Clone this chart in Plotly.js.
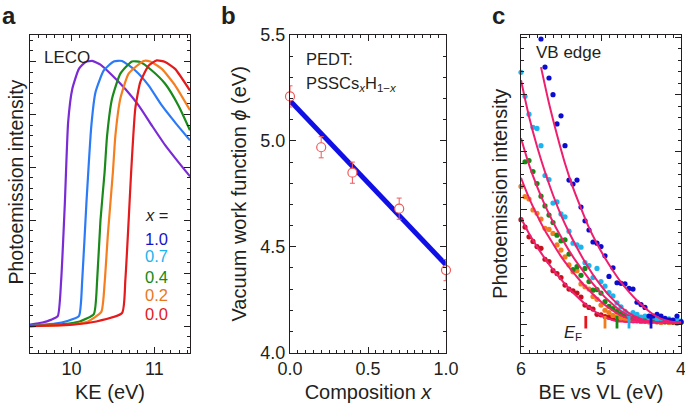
<!DOCTYPE html>
<html>
<head>
<meta charset="utf-8">
<script src="https://cdn.plot.ly/plotly-3.0.1.min.js"></script>
<style>html,body{margin:0;padding:0;background:#fff;}#chart{width:685px;height:409px;}</style>
</head>
<body>
<div id="chart"></div>
<script>
// ---------- Panel a: LECO spectra (KE in eV, intensity arb. units) ----------
const keP = [9.50, 9.65, 9.75, 9.835, 9.876, 9.92, 9.96, 10.01, 10.09, 10.17, 10.25, 10.35, 10.49, 10.65, 10.81, 10.97, 11.13, 11.29, 11.43];
const intP = [0.03, 0.07, 0.12, 0.19, 0.87, 2.31, 3.85, 4.48, 4.86, 4.99, 5.01, 4.94, 4.74, 4.48, 4.17, 3.79, 3.42, 3.10, 2.83];
const keB = [9.50, 9.80, 9.95, 10.09, 10.13, 10.18, 10.24, 10.29, 10.39, 10.51, 10.61, 10.77, 10.93, 11.09, 11.25, 11.43];
const intB = [0.01, 0.05, 0.10, 0.19, 0.87, 2.31, 3.79, 4.42, 4.83, 5.00, 5.01, 4.83, 4.55, 4.17, 3.85, 3.51];
const keG = [9.50, 9.90, 10.10, 10.27, 10.31, 10.35, 10.40, 10.43, 10.49, 10.59, 10.73, 10.83, 10.97, 11.13, 11.29, 11.43];
const intG = [0.00, 0.04, 0.09, 0.23, 0.87, 2.00, 2.91, 3.60, 4.30, 4.77, 5.00, 4.99, 4.83, 4.58, 4.17, 3.70];
const keO = [9.50, 10.00, 10.20, 10.36, 10.40, 10.44, 10.50, 10.53, 10.59, 10.69, 10.87, 10.95, 11.09, 11.25, 11.43];
const intO = [0.00, 0.03, 0.09, 0.27, 0.81, 1.75, 2.91, 3.60, 4.30, 4.77, 5.01, 5.00, 4.86, 4.55, 4.08];
const keR = [9.50, 10.00, 10.30, 10.61, 10.65, 10.69, 10.72, 10.77, 10.83, 10.93, 11.03, 11.13, 11.25, 11.43];
const intR = [0.00, 0.03, 0.09, 0.25, 0.87, 2.00, 2.91, 4.11, 4.61, 4.92, 5.02, 4.99, 4.86, 4.45];
const legendLabels = ['1.0', '0.7', '0.4', '0.2', '0.0'];

// ---------- Panel b: work function vs composition ----------
const compX = [0.0, 0.2, 0.4, 0.7, 1.0];
const phi = [5.21, 4.97, 4.85, 4.68, 4.39];
const phiErr = [0.05, 0.05, 0.05, 0.05, 0.05];
const lineX = [0.0, 1.0];
const linePhi = [5.19, 4.415];

// ---------- Panel c: VB edge (BE vs VL in eV, intensity arb. units) ----------
const beBlue = [5.75,5.70,5.65,5.60,5.55,5.50,5.45,5.40,5.35,5.30,5.25,5.20,5.15,5.10,5.05,5.00,4.95,4.90,4.85,4.80,4.75,4.70,4.65,4.60,4.55,4.50,4.45,4.40,4.35,4.30,4.25,4.20,4.15,4.10,4.05,4.00];
const intBlue = [4.97,4.48,4.29,4.00,3.49,3.63,3.11,2.51,2.44,2.51,2.04,1.80,1.64,1.43,1.41,1.35,1.19,0.83,0.98,0.72,0.71,0.70,0.62,0.61,0.38,0.34,0.29,0.14,0.14,0.17,0.14,0.10,0.07,0.07,0.14,0.04];
const beLight = [6.00,5.95,5.90,5.85,5.80,5.75,5.70,5.65,5.60,5.55,5.50,5.45,5.40,5.35,5.30,5.25,5.20,5.15,5.10,5.05,5.00,4.95,4.90,4.85,4.80,4.75,4.70,4.65,4.60,4.55,4.50,4.45,4.40,4.35,4.30,4.25,4.20,4.15,4.10,4.05,4.00];
const intLight = [4.39,3.97,3.66,3.43,3.41,3.11,2.59,2.52,2.11,2.13,1.92,1.87,1.62,1.41,1.38,1.34,1.07,1.02,0.81,0.97,0.74,0.66,0.55,0.49,0.37,0.30,0.22,0.15,0.20,0.17,0.12,0.14,0.10,0.12,0.08,0.10,0.07,0.09,0.06,0.08,0.05];
const beGreen = [5.95,5.90,5.85,5.80,5.75,5.70,5.65,5.60,5.55,5.50,5.45,5.40,5.35,5.30,5.25,5.20,5.15,5.10,5.05,5.00,4.95,4.90,4.85,4.80,4.75,4.70,4.65,4.60,4.55,4.50,4.45,4.40,4.35,4.30,4.25,4.20,4.15,4.10,4.05,4.00];
const intGreen = [2.83,2.85,2.66,2.45,2.23,2.06,1.90,1.77,1.55,1.45,1.47,1.22,0.95,1.00,0.85,0.97,0.74,0.59,0.60,0.54,0.39,0.31,0.27,0.22,0.18,0.15,0.13,0.10,0.12,0.08,0.07,0.06,0.07,0.05,0.06,0.04,0.05,0.04,0.05,0.03];
const beOrange = [6.00,5.95,5.90,5.85,5.80,5.75,5.70,5.65,5.60,5.55,5.50,5.45,5.40,5.35,5.30,5.25,5.20,5.15,5.10,5.05,5.00,4.95,4.90,4.85,4.80,4.75,4.70,4.65,4.60,4.55,4.50,4.45,4.40,4.35,4.30,4.25,4.20,4.15,4.10,4.05,4.00];
const intOrange = [2.40,2.22,2.18,1.99,1.93,1.83,1.67,1.65,1.58,1.38,1.29,1.17,1.03,0.91,0.93,0.70,0.65,0.61,0.48,0.43,0.33,0.24,0.20,0.15,0.13,0.10,0.09,0.07,0.08,0.06,0.05,0.06,0.04,0.05,0.04,0.03,0.04,0.03,0.04,0.03,0.03];
const beRed = [6.00,5.95,5.90,5.85,5.80,5.75,5.70,5.65,5.60,5.55,5.50,5.45,5.40,5.35,5.30,5.25,5.20,5.15,5.10,5.05,5.00,4.95,4.90,4.85,4.80,4.75,4.70,4.65,4.60,4.55,4.50,4.45,4.40,4.35,4.30,4.25,4.20,4.15,4.10,4.05,4.00];
const intRed = [1.82,1.69,1.52,1.44,1.35,1.32,1.13,1.09,0.93,0.88,0.81,0.68,0.61,0.58,0.54,0.47,0.33,0.29,0.26,0.17,0.16,0.13,0.12,0.10,0.09,0.08,0.07,0.08,0.06,0.06,0.05,0.05,0.04,0.05,0.04,0.03,0.04,0.03,0.03,0.02,0.03];

const fitBlueBE = [5.75,5.65,5.55,5.45,5.35,5.25,5.15,5.05,4.95,4.85,4.75,4.65,4.55,4.45,4.35,4.25,4.15,4.05,4.00];
const fitBlue = [4.48,3.85,3.30,2.80,2.38,2.02,1.68,1.40,1.15,0.93,0.73,0.56,0.41,0.28,0.17,0.09,0.05,0.03,0.03];
const fitBE = [6.00,5.90,5.80,5.70,5.60,5.50,5.40,5.30,5.20,5.10,5.00,4.90,4.80,4.70,4.60,4.50,4.40,4.20,4.00];
const fitLight = [4.25,3.62,3.10,2.65,2.25,1.90,1.60,1.33,1.08,0.86,0.67,0.50,0.36,0.24,0.15,0.09,0.05,0.03,0.03];
const fitGreen = [3.24,2.78,2.40,2.07,1.78,1.52,1.28,1.07,0.88,0.70,0.54,0.40,0.28,0.18,0.11,0.07,0.04,0.03,0.03];
const fitOrange = [2.55,2.20,1.90,1.63,1.40,1.18,0.99,0.82,0.66,0.52,0.39,0.28,0.19,0.12,0.07,0.05,0.04,0.03,0.03];
const fitRed = [1.85,1.58,1.35,1.14,0.95,0.78,0.62,0.48,0.35,0.24,0.15,0.09,0.05,0.04,0.03,0.03,0.03,0.03,0.03];

const efBE = [5.19, 4.95, 4.80, 4.65, 4.375];
const efMarkY = [-0.08, 0.14];

// ---------- styling ----------
const F = 'Liberation Sans, Arial, Helvetica, sans-serif';
const INK = '#231f20';
const cA = {p:'#7b2bd5', b:'#2b7bf8', g:'#1a8a1a', o:'#f57f1f', r:'#e41a1c'};
const cLeg = ['#1414c8', '#1cb4ee', '#138a13', '#e8781e', '#e41a1c'];
const cC = {blue:'#0c0cd0', light:'#1cb4ee', green:'#138a13', orange:'#f07d1e', red:'#c4121c'};
const fitCol = '#f01e6e';
const efCol = ['#e8141b', '#f07d1e', '#138a13', '#1cb4ee', '#1414c8'];
const W = 685, H = 409;
const px = v => v / W;
const py = v => 1 - v / H;
const yDom = [py(352.7), py(35)];

function ax(extra) {
  return Object.assign({
    showline: true, linecolor: INK, linewidth: 1, mirror: 'allticks',
    ticks: 'inside', ticklen: 6, tickwidth: 1, tickcolor: INK,
    zeroline: false, showgrid: false, fixedrange: true, ticklabeloverflow: 'allow',
    tickfont: {family: F, size: 18, color: INK}
  }, extra);
}
const minorT = (dt) => ({tickmode:'linear', tick0:0, dtick:dt, ticks:'inside', ticklen:3, tickcolor:INK, tickwidth:1});

const traces = [];
// panel a
[[keP,intP,cA.p],[keB,intB,cA.b],[keG,intG,cA.g],[keO,intO,cA.o],[keR,intR,cA.r]].forEach(([x,y,c]) => {
  traces.push({x, y, xaxis:'x', yaxis:'y', type:'scatter', mode:'lines',
    line:{color:c, width:2.2, shape:'spline', smoothing:0.5}, hoverinfo:'skip'});
});
// panel b
traces.push({x: lineX, y: linePhi, xaxis:'x2', yaxis:'y2', type:'scatter', mode:'lines',
  line:{color:'#1010e6', width:5}, hoverinfo:'skip'});
traces.push({x: compX, y: phi, xaxis:'x2', yaxis:'y2', type:'scatter', mode:'markers', cliponaxis:false,
  marker:{symbol:'circle', size:9, color:'#ffffff', line:{color:'#f05a5a', width:1.2}},
  error_y:{type:'data', array: phiErr, visible:true, color:'#f05a5a', thickness:1, width:2.5},
  hoverinfo:'skip'});
// panel c dots
[[beRed,intRed,cC.red],[beOrange,intOrange,cC.orange],[beGreen,intGreen,cC.green],[beLight,intLight,cC.light],[beBlue,intBlue,cC.blue]].forEach(([x,y,c]) => {
  traces.push({x, y, xaxis:'x3', yaxis:'y3', type:'scatter', mode:'markers', cliponaxis:false,
    marker:{size:5.2, color:c}, hoverinfo:'skip'});
});
// panel c fits
[[fitBE,fitRed],[fitBE,fitOrange],[fitBE,fitGreen],[fitBE,fitLight],[fitBlueBE,fitBlue]].forEach(([x,y]) => {
  traces.push({x, y, xaxis:'x3', yaxis:'y3', type:'scatter', mode:'lines',
    line:{color:fitCol, width:2, shape:'spline', smoothing:0.8}, hoverinfo:'skip'});
});
// E_F markers
efBE.forEach((e, i) => {
  traces.push({x:[e, e], y: efMarkY, xaxis:'x3', yaxis:'y3', type:'scatter', mode:'lines',
    line:{color: efCol[i], width:2.8}, hoverinfo:'skip'});
});

const txt = (s, x, y, opts) => Object.assign({text:s, xref:'paper', yref:'paper', x:px(x), y:py(y),
  xanchor:'left', yanchor:'middle', showarrow:false, font:{family:F, size:16.5, color:INK}}, opts || {});

const annotations = [
  txt('<b>a</b>', 0, 0, {yanchor:'top', font:{family:F, size:24, color:INK}}),
  txt('<b>b</b>', 219, 0, {yanchor:'top', font:{family:F, size:24, color:INK}}),
  txt('<b>c</b>', 490, 0, {yanchor:'top', font:{family:F, size:24, color:INK}}),
  txt('Photoemission intensity', 15, 182.5, {xanchor:'center', textangle:-90, font:{family:F, size:19.5, color:INK}}),
  txt('LECO', 41.5, 57.4, {font:{family:F, size:17, color:INK}}),
  txt('<i>x</i> =', 143.3, 214.7, {font:{family:F, size:16.5, color:INK}}),
  txt('PEDT:', 304, 59, {font:{family:F, size:16.5, color:INK}}),
  txt('PSSCs<sub><i>x</i></sub>H<sub>1\u2212<i>x</i></sub>', 304, 84, {font:{family:F, size:16.5, color:INK}}),
  txt('VB edge', 534, 53, {font:{family:F, size:17, color:INK}}),
  txt('<i>E</i><sub>F</sub>', 561.5, 333, {font:{family:F, size:16.5, color:INK}})
];
const legY = [239, 255.7, 277.3, 295, 314];
legendLabels.forEach((s, i) => annotations.push(txt(s, 143.3, legY[i], {font:{family:F, size:16.5, color:cLeg[i]}})));

const layout = {
  width: W, height: H,
  margin: {l:0, r:0, t:0, b:0},
  paper_bgcolor: '#ffffff', plot_bgcolor: '#ffffff',
  showlegend: false, hovermode: false,
  font: {family: F, color: INK},
  xaxis: ax({domain:[px(30), px(190)], anchor:'y', range:[9.5, 11.43],
    tickmode:'array', tickvals:[10, 11], ticktext:['10', '11'],
    minor: minorT(0.1),
    title:{text:'KE (eV)', font:{family:F, size:20, color:INK}, standoff:6}}),
  yaxis: ax({domain:yDom, anchor:'x', range:[-0.5, 5.5], showticklabels:false,
    tickmode:'linear', tick0:0, dtick:1, minor: minorT(0.2)}),
  xaxis2: ax({domain:[px(290), px(446)], anchor:'y2', range:[0, 1],
    tickmode:'array', tickvals:[0, 0.5, 1], ticktext:['0.0', '0.5', '1.0'],
    minor: minorT(0.05),
    title:{text:'Composition <i>x</i>', font:{family:F, size:20, color:INK}, standoff:6}}),
  yaxis2: ax({domain:yDom, anchor:'x2', range:[4.0, 5.5],
    tickmode:'array', tickvals:[4.0, 4.5, 5.0, 5.5], ticktext:['4.0', '4.5', '5.0', '5.5'],
    minor: minorT(0.1),
    title:{text:'Vacuum work function <i>\u03D5</i> (eV)', font:{family:F, size:20, color:INK}, standoff:8}}),
  xaxis3: ax({domain:[px(521), px(681)], anchor:'y3', range:[6, 4],
    tickmode:'array', tickvals:[6, 5, 4], ticktext:['6', '5', '4'],
    minor: minorT(0.1),
    title:{text:'BE vs VL (eV)', font:{family:F, size:20, color:INK}, standoff:6}}),
  yaxis3: ax({domain:yDom, anchor:'x3', range:[-0.5, 5.04], showticklabels:false,
    tickmode:'linear', tick0:0, dtick:1, minor: minorT(0.2),
    title:{text:'Photoemission intensity', font:{family:F, size:20, color:INK}, standoff:6}}),
  annotations
};

Plotly.newPlot('chart', traces, layout, {staticPlot:true, displayModeBar:false});
</script>
</body>
</html>
